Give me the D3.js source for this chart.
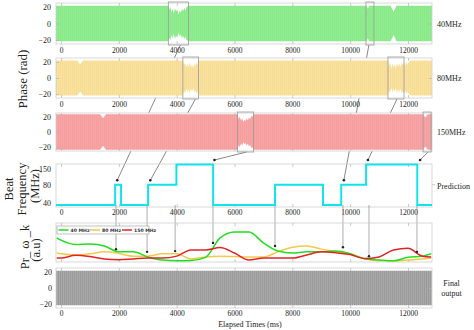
<!DOCTYPE html>
<html>
<head>
<meta charset="utf-8">
<script src="https://cdn.jsdelivr.net/npm/d3@7"></script>
<style>
  body { margin: 0; background: #fff; }
  text { font-family: "Liberation Serif", "Times New Roman", serif; fill: #222; }
  text.legend { font-family: "DejaVu Sans", sans-serif; font-weight: bold; fill: #333; }
</style>
</head>
<body>
<svg id="fig" width="474" height="330"></svg>
<script>
// ---------------- data ----------------
const xTicks = [0, 2000, 4000, 6000, 8000, 10000, 12000];
const phaseTicks = [20, 0, -20];
const channelNames = ["40MHz", "80MHz", "150MHz"];
const channelColors = ["#8eee8e", "#fbe29c", "#f9a3a3"];

// phase signal envelope (time in ms, amplitude in rad) per channel
const env40T = [-175, 3710, 3740, 3780, 3820, 3860, 3900, 3940, 3980, 4020, 4060, 4100, 4140, 4180, 4220, 4260, 4300, 4340, 4380, 4405, 10560, 10610, 10660, 11400, 11500, 11600, 12830];
const env40A = [21.5, 21.5, 17, 20, 14, 18, 12, 19, 15, 17, 11, 16, 13, 18, 15, 19, 16, 20, 21, 21.5, 21.5, 18, 21.5, 21.5, 14, 21.5, 21.5];
const env80T = [-175, 560, 660, 760, 4214, 4250, 4290, 4330, 4370, 4410, 4450, 4490, 4530, 4570, 4610, 4650, 4690, 4730, 4752, 11307, 11340, 11380, 11420, 11460, 11500, 11540, 11580, 11620, 11660, 11700, 11740, 11780, 11820, 11860, 11900, 11940, 11980, 12040, 12100, 12830];
const env80A = [22, 22, 17, 22, 22, 16, 19, 13, 18, 14, 20, 13, 17, 12, 18, 15, 19, 17, 22, 22, 15, 19, 12, 18, 13, 17, 12, 19, 14, 18, 13, 19, 16, 20, 15, 20, 17, 21, 22, 22];
const env150T = [-175, 1350, 1450, 1550, 6105, 6140, 6180, 6220, 6260, 6300, 6340, 6380, 6420, 6460, 6500, 6540, 6580, 6620, 6660, 12520, 12600, 12680, 12830];
const env150A = [23.5, 23.5, 18, 23.5, 23.5, 17, 20, 15, 18, 13, 16, 14, 18, 15, 19, 17, 21, 20, 23.5, 23.5, 19, 23.5, 23.5];

// highlighted windows (ms) per channel
const boxes40 = [[3710, 4405], [10545, 10822]];
const boxes80 = [[4214, 4752], [11307, 11862]];
const boxes150 = [[6105, 6660], [12522, 12799]];

// predicted beat frequency (step function)
const beatLevels = [40, 80, 150];
const stepT = [-175, 1870, 2075, 3010, 3990, 5260, 7400, 9060, 9690, 10550, 12320, 12830];
const stepF = [40, 80, 40, 80, 150, 40, 80, 40, 80, 150, 40, 40];

// arrows: window in a channel -> change in the prediction
const arrowCh = [0, 1, 2, 0, 1, 2];
const arrowFromT = [4128, 4648, 6417, 10649, 11620, 12695];
const arrowToT = [1942, 3087, 5307, 9781, 10614, 12418];
const arrowToF = [80, 80, 150, 80, 150, 150];

// probability per beat frequency (a.u.)
const prT = [-150, 0, 500, 1000, 1500, 2000, 2500, 3000, 3500, 4000, 4500, 5000, 5500, 6000, 6500, 7000, 7500, 8000, 8500, 9000, 9500, 10000, 10500, 11000, 11500, 12000, 12500, 12800];
const pr40 = [0.62, 0.56, 0.45, 0.46, 0.41, 0.26, 0.26, 0.13, 0.05, 0.03, 0.04, 0.12, 0.62, 0.77, 0.77, 0.49, 0.28, 0.23, 0.26, 0.26, 0.28, 0.21, 0.08, 0.05, 0.03, 0.12, 0.15, 0.21];
const pr80 = [0.23, 0.21, 0.18, 0.21, 0.26, 0.22, 0.15, 0.15, 0.21, 0.21, 0.08, 0.13, 0.15, 0.14, 0.13, 0.13, 0.26, 0.38, 0.41, 0.33, 0.27, 0.21, 0.08, 0.03, 0.03, 0.05, 0.08, 0.10];
const pr150 = [0.10, 0.10, 0.17, 0.14, 0.08, 0.06, 0.08, 0.10, 0.10, 0.15, 0.31, 0.31, 0.37, 0.23, 0.05, 0.10, 0.10, 0.10, 0.18, 0.26, 0.24, 0.19, 0.09, 0.13, 0.31, 0.35, 0.15, 0.13];
const prNames = ["40 MHz", "80 MHz", "150 MHz"];
const prColors = ["#22dd22", "#f2c94c", "#e02424"];

// marked change points on the probability curves
const dropT = [1900, 2975, 3945, 5255, 7400, 9750, 10650, 12310];
const dropV = [0.33, 0.26, 0.28, 0.49, 0.41, 0.38, 0.15, 0.26];

// final output envelope
const finalT = [-175, 12830];
const finalA = [21.5, 21.5];

// ---------------- layout ----------------
const svg = d3.select("#fig");
const x = d3.scaleLinear().domain([-175, 12830]).range([56, 432]);
const L = 56, R = 432;
const phasePanels = [{ top: 3, bot: 44, label: 52 }, { top: 58, bot: 98, label: 106 }, { top: 113, bot: 151, label: null }];
const beatPanel = { top: 164, bot: 207, label: 214 };
const prPanel = { top: 223, bot: 262 };
const finalPanel = { top: 268, bot: 308, label: 315 };

const defs = svg.append("defs");
function stripes(id, color, w) {
  const p = defs.append("pattern").attr("id", id).attr("patternUnits", "userSpaceOnUse")
    .attr("width", w).attr("height", 10);
  p.append("rect").attr("width", 1).attr("height", 10).attr("fill", color);
}
stripes("stripeLight", "rgba(0,0,0,0.025)", 2);
stripes("stripeGray", "rgba(0,0,0,0.09)", 2);

function innerTicks(g, top, bot, yScale, yVals) {
  const tk = g.append("g").attr("class", "ticks");
  tk.append("g").attr("transform", `translate(0,${bot})`)
    .call(d3.axisBottom(x).tickValues(xTicks).tickSizeInner(-3).tickSizeOuter(0).tickFormat(""));
  tk.append("g").attr("transform", `translate(0,${top})`)
    .call(d3.axisTop(x).tickValues(xTicks).tickSizeInner(-3).tickSizeOuter(0).tickFormat(""));
  if (yScale) {
    tk.append("g").attr("transform", `translate(${R},0)`)
      .call(d3.axisRight(yScale).tickValues(yVals).tickSizeInner(-3).tickSizeOuter(0).tickFormat(""));
  }
  tk.selectAll(".domain").remove();
  tk.selectAll("line").attr("stroke", "#b5b5b5").attr("stroke-width", 0.7);
}

function xLabels(y) {
  const a = svg.append("g").attr("transform", `translate(0,${y - 4})`)
    .call(d3.axisBottom(x).tickValues(xTicks).tickSize(0).tickPadding(0).tickFormat(d3.format("d")));
  a.select(".domain").remove();
  a.selectAll("text").attr("font-size", 7.5).attr("fill", "#333");
}

function border(top, bot) {
  svg.append("rect").attr("x", L).attr("y", top).attr("width", R - L).attr("height", bot - top)
    .attr("fill", "none").attr("stroke", "#cfcfcf").attr("stroke-width", 0.8);
}

function phaseY(p) { return d3.scaleLinear().domain([-25, 25]).range([p.bot, p.top]); }

// ---------------- arrows (drawn beneath the phase panels) ----------------
const beatY = d3.scalePoint().domain(beatLevels).range([205, 164.5]);
const arrowG = svg.append("g");
arrowCh.forEach((c, i) => {
  const p = phasePanels[c];
  const x1 = x(arrowFromT[i]), y1 = p.bot + 1;
  const x2 = x(arrowToT[i]), y2 = beatY(arrowToF[i]) - 4.5;
  arrowG.append("line").attr("x1", x1).attr("y1", y1).attr("x2", x2).attr("y2", y2)
    .attr("stroke", "#555").attr("stroke-width", 0.7);
  arrowG.append("circle").attr("cx", x2).attr("cy", y2).attr("r", 1.3).attr("fill", "#222");
});

// ---------------- phase panels ----------------
const envT = [env40T, env80T, env150T];
const envA = [env40A, env80A, env150A];
const boxes = [boxes40, boxes80, boxes150];

phasePanels.forEach((p, c) => {
  const y = phaseY(p);
  const g = svg.append("g");
  g.append("rect").attr("x", L).attr("y", p.top).attr("width", R - L).attr("height", p.bot - p.top).attr("fill", "#fff");
  const pts = envT[c].map((t, i) => ({ t, a: envA[c][i] }));
  const area = d3.area().x(d => x(d.t)).y0(d => y(-d.a)).y1(d => y(d.a));
  g.append("path").attr("d", area(pts)).attr("fill", channelColors[c]);
  g.append("path").attr("d", area(pts)).attr("fill", "url(#stripeLight)");
  border(p.top, p.bot);
  innerTicks(svg, p.top, p.bot, y, [0]);
  // y tick labels
  const ya = svg.append("g").attr("transform", `translate(${L},0)`)
    .call(d3.axisLeft(y).tickValues(phaseTicks).tickSize(0).tickPadding(5));
  ya.select(".domain").remove();
  ya.selectAll("text").attr("font-size", 8).attr("fill", "#333");
  ya.append("g").call(d3.axisRight(y).tickValues(phaseTicks).tickSize(3).tickFormat(""))
    .call(s => s.select(".domain").remove())
    .selectAll("line").attr("stroke", "#b5b5b5").attr("stroke-width", 0.7);
  // highlighted windows
  boxes[c].forEach(b => {
    svg.append("rect").attr("x", x(b[0])).attr("y", p.top - 1).attr("width", x(b[1]) - x(b[0]))
      .attr("height", p.bot - p.top + 2).attr("fill", "none").attr("stroke", "#9a9a9a").attr("stroke-width", 0.8);
  });
  if (p.label) xLabels(p.label);
  svg.append("text").attr("x", 437).attr("y", (p.top + p.bot) / 2 + 3)
    .attr("font-size", 8).text(channelNames[c]);
});

// ---------------- beat frequency prediction ----------------
border(beatPanel.top, beatPanel.bot);
innerTicks(svg, beatPanel.top, beatPanel.bot, null, null);
svg.append("line").attr("x1", R).attr("x2", R + 3).attr("y1", beatY(80)).attr("y2", beatY(80))
  .attr("stroke", "#b5b5b5").attr("stroke-width", 0.7);
const bya = svg.append("g").attr("transform", `translate(${L},0)`)
  .call(d3.axisLeft(beatY).tickSize(0).tickPadding(5));
bya.select(".domain").remove();
bya.selectAll("text").attr("font-size", 8).attr("fill", "#333")
  .attr("dy", d => d === 150 ? "0.85em" : d === 40 ? "0.05em" : "0.32em");
xLabels(beatPanel.label);

// vertical markers down to the probability panel
const prY = d3.scaleLinear().domain([0, 1]).range([prPanel.bot, prPanel.top]);
const dropG = svg.append("g");
dropT.forEach((t, i) => {
  dropG.append("line").attr("x1", x(t)).attr("x2", x(t)).attr("y1", beatY(40)).attr("y2", prY(dropV[i]))
    .attr("stroke", "#8a8a8a").attr("stroke-width", 0.7);
});

const stepPts = stepT.map((t, i) => ({ t, f: stepF[i] }));
svg.append("path")
  .attr("d", d3.line().x(d => x(d.t)).y(d => beatY(d.f)).curve(d3.curveStepAfter)(stepPts))
  .attr("fill", "none").attr("stroke", "#12e4ee").attr("stroke-width", 2);
svg.append("text").attr("x", 437).attr("y", 189).attr("font-size", 8).text("Prediction");

// ---------------- probability panel ----------------
border(prPanel.top, prPanel.bot);
innerTicks(svg, prPanel.top, prPanel.bot, null, null);
const prSeries = [pr40, pr80, pr150];
const prLine = d3.line().x(d => x(d.t)).y(d => prY(d.v)).curve(d3.curveMonotoneX);
[1, 0, 2].forEach(k => {
  const pts = prT.map((t, i) => ({ t, v: prSeries[k][i] }));
  svg.append("path").attr("d", prLine(pts)).attr("fill", "none")
    .attr("stroke", prColors[k]).attr("stroke-width", 1.5);
});
dropT.forEach((t, i) => {
  svg.append("circle").attr("cx", x(t)).attr("cy", prY(dropV[i])).attr("r", 1.2).attr("fill", "#222");
});
// legend
const lg = svg.append("g").attr("transform", "translate(57,226)");
lg.append("rect").attr("width", 92).attr("height", 8).attr("fill", "#fff").attr("stroke", "#999").attr("stroke-width", 0.6);
const lgX = [1.5, 33, 65];
prNames.forEach((n, k) => {
  lg.append("line").attr("x1", lgX[k]).attr("x2", lgX[k] + 10).attr("y1", 4).attr("y2", 4)
    .attr("stroke", prColors[k]).attr("stroke-width", 1.5);
  lg.append("text").attr("class", "legend").attr("x", lgX[k] + 12).attr("y", 5.8).attr("font-size", 4.6).text(n);
});

// ---------------- final output ----------------
const fy = phaseY(finalPanel);
const fpts = finalT.map((t, i) => ({ t, a: finalA[i] }));
const farea = d3.area().x(d => x(d.t)).y0(d => fy(-d.a)).y1(d => fy(d.a));
svg.append("path").attr("d", farea(fpts)).attr("fill", "#a9a9a9");
svg.append("path").attr("d", farea(fpts)).attr("fill", "url(#stripeGray)");
border(finalPanel.top, finalPanel.bot);
innerTicks(svg, finalPanel.top, finalPanel.bot, fy, [0]);
const fya = svg.append("g").attr("transform", `translate(${L},0)`)
  .call(d3.axisLeft(fy).tickValues(phaseTicks).tickSize(0).tickPadding(4));
fya.select(".domain").remove();
fya.selectAll("text").attr("font-size", 8).attr("fill", "#333");
xLabels(finalPanel.label);
svg.append("text").attr("x", 451.5).attr("y", 286).attr("text-anchor", "middle").attr("font-size", 8).text("Final");
svg.append("text").attr("x", 451.5).attr("y", 296).attr("text-anchor", "middle").attr("font-size", 8).text("output");
svg.append("text").attr("x", 250).attr("y", 327).attr("text-anchor", "middle").attr("font-size", 8).text("Elapsed Times (ms)");

// ---------------- axis titles ----------------
function vtext(cx, cy, size, str) {
  svg.append("text").attr("transform", `translate(${cx},${cy}) rotate(-90)`)
    .attr("text-anchor", "middle").attr("font-size", size).text(str);
}
vtext(27, 79, 13, "Phase (rad)");
vtext(13, 189, 12.5, "Beat");
vtext(26, 189, 12.5, "Frequency");
vtext(39, 186, 12.5, "(MHz)");
vtext(29, 247, 12.5, "Pr_ \u03c9 _k");
vtext(40, 250, 12.5, "(a.u)");
</script>
</body>
</html>
